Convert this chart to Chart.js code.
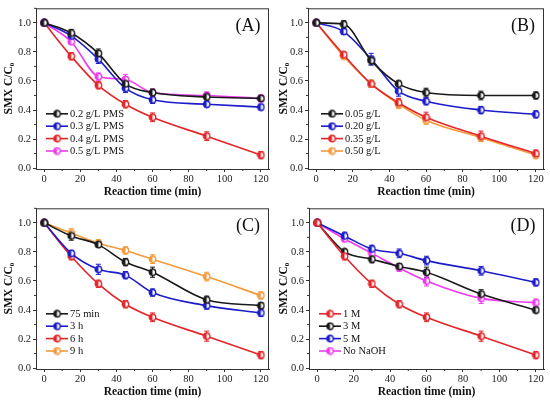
<!DOCTYPE html>
<html>
<head>
<meta charset="utf-8">
<script src="https://cdn.jsdelivr.net/npm/chart.js@4.4.0/dist/chart.umd.min.js"></script>
<style>
  body { margin: 0; background: #fff; width: 550px; height: 402px; position: relative; overflow: hidden; }
  .panel { position: absolute; width: 275px; height: 200px; }
</style>
</head>
<body>
<div class="panel" style="left:0;top:0"><canvas id="chartA"></canvas></div>
<div class="panel" style="left:275px;top:0"><canvas id="chartB"></canvas></div>
<div class="panel" style="left:0;top:200px"><canvas id="chartC"></canvas></div>
<div class="panel" style="left:275px;top:200px"><canvas id="chartD"></canvas></div>
<script>
// sampling times (min) and axis ticks
const times = [0, 15, 30, 45, 60, 90, 120];
const xTicks = [0, 20, 40, 60, 80, 100, 120];
const yTicks = [0, 0.2, 0.4, 0.6, 0.8, 1.0];

// (A) PMS dosage
const namesA = ['0.2 g/L PMS', '0.3 g/L PMS', '0.4 g/L PMS', '0.5 g/L PMS'];
const pms02 = [1.0, 0.93, 0.79, 0.58, 0.52, 0.49, 0.48];
const pms03 = [1.0, 0.91, 0.75, 0.55, 0.47, 0.44, 0.42];
const pms04 = [1.0, 0.77, 0.57, 0.44, 0.35, 0.22, 0.09];
const pms05 = [1.0, 0.87, 0.63, 0.61, 0.52, 0.50, 0.48];
const errPms02 = [0, 0.025, 0.03, 0.025, 0.025, 0.02, 0.02];
const errPms03 = [0, 0.025, 0.03, 0.03, 0.025, 0.02, 0.02];
const errPms04 = [0, 0.025, 0.025, 0.025, 0.03, 0.03, 0.025];
const errPms05 = [0, 0.02, 0.025, 0.035, 0.02, 0.025, 0.025];

// (B) catalyst dosage
const namesB = ['0.05 g/L', '0.20 g/L', '0.35 g/L', '0.50 g/L'];
const cat005 = [1.0, 0.99, 0.74, 0.58, 0.52, 0.50, 0.50];
const cat020 = [1.0, 0.94, 0.75, 0.53, 0.46, 0.40, 0.37];
const cat035 = [1.0, 0.78, 0.58, 0.45, 0.35, 0.22, 0.10];
const cat050 = [1.0, 0.77, 0.58, 0.44, 0.33, 0.21, 0.09];
const errCat005 = [0, 0.025, 0.03, 0.02, 0.03, 0.03, 0.025];
const errCat020 = [0, 0.02, 0.04, 0.035, 0.025, 0.025, 0.025];
const errCat035 = [0, 0.02, 0.025, 0.03, 0.035, 0.035, 0.025];
const errCat050 = [0, 0.02, 0.025, 0.03, 0.03, 0.025, 0.025];

// (C) aging time
const namesC = ['75 min', '3 h', '6 h', '9 h'];
const age75 = [1.0, 0.91, 0.85, 0.73, 0.66, 0.47, 0.43];
const age3 = [1.0, 0.79, 0.68, 0.64, 0.52, 0.43, 0.38];
const age6 = [1.0, 0.77, 0.58, 0.44, 0.35, 0.22, 0.09];
const age9 = [1.0, 0.93, 0.86, 0.81, 0.75, 0.63, 0.50];
const errAge75 = [0, 0.03, 0.02, 0.025, 0.035, 0.025, 0.02];
const errAge3 = [0, 0.02, 0.035, 0.025, 0.025, 0.025, 0.025];
const errAge6 = [0, 0.025, 0.025, 0.025, 0.03, 0.035, 0.025];
const errAge9 = [0, 0.03, 0.025, 0.025, 0.03, 0.03, 0.025];

// (D) NaOH concentration
const namesD = ['1 M', '3 M', '5 M', 'No NaOH'];
const naoh1 = [1.0, 0.77, 0.58, 0.44, 0.35, 0.22, 0.09];
const naoh3 = [1.0, 0.80, 0.75, 0.70, 0.66, 0.51, 0.40];
const naoh5 = [1.0, 0.91, 0.82, 0.79, 0.74, 0.67, 0.59];
const naohNo = [1.0, 0.89, 0.79, 0.69, 0.60, 0.48, 0.45];
const errNaoh1 = [0, 0.025, 0.025, 0.025, 0.03, 0.035, 0.025];
const errNaoh3 = [0, 0.02, 0.025, 0.02, 0.035, 0.03, 0.02];
const errNaoh5 = [0, 0.025, 0.025, 0.03, 0.03, 0.03, 0.025];
const errNaohNo = [0, 0.02, 0.03, 0.025, 0.035, 0.035, 0.025];

const BLACK = '#1a1a1a', BLUE = '#1c1cc8', RED = '#e3262b', MAGENTA = '#f03cf0', ORANGE = '#f39a3c';
const SERIF = '"Liberation Serif", "Times New Roman", serif';

// half filled circle marker
function makeMarker(color) {
  const c = document.createElement('canvas');
  c.width = 9; c.height = 9;
  const g = c.getContext('2d');
  g.beginPath(); g.arc(4.5, 4.5, 3.2, 0, Math.PI * 2);
  g.fillStyle = '#fff'; g.fill();
  g.beginPath(); g.arc(4.5, 4.5, 3.2, Math.PI / 2, Math.PI * 1.5);
  g.fillStyle = color; g.fill();
  g.beginPath(); g.arc(4.5, 4.5, 3.2, 0, Math.PI * 2);
  g.lineWidth = 1.4; g.strokeStyle = color; g.stroke();
  return c;
}

const extras = {
  id: 'extras',
  beforeDatasetsDraw(chart) {
    const ctx = chart.ctx, ys = chart.scales.y;
    chart.data.datasets.forEach((ds, i) => {
      const meta = chart.getDatasetMeta(i);
      ctx.save();
      ctx.strokeStyle = ds.borderColor; ctx.lineWidth = 1;
      meta.data.forEach((pt, j) => {
        const e = ds.errors[j];
        if (!e) return;
        const t = ys.getPixelForValue(ds.data[j] + e), b = ys.getPixelForValue(ds.data[j] - e);
        ctx.beginPath();
        ctx.moveTo(pt.x, t); ctx.lineTo(pt.x, b);
        ctx.moveTo(pt.x - 2.5, t); ctx.lineTo(pt.x + 2.5, t);
        ctx.moveTo(pt.x - 2.5, b); ctx.lineTo(pt.x + 2.5, b);
        ctx.stroke();
      });
      ctx.restore();
    });
  },
  afterDraw(chart) {
    const ctx = chart.ctx, a = chart.chartArea, o = chart.options.plugins.extras;
    const xs = chart.scales.x, ys = chart.scales.y;
    ctx.save();
    // frame
    ctx.strokeStyle = '#333'; ctx.lineWidth = 1;
    ctx.strokeRect(a.left + 0.5, a.top + 0.5, a.right - a.left - 1, a.bottom - a.top);
    // minor ticks
    ctx.beginPath();
    for (let v = 10; v < 120; v += 20) {
      const x = xs.getPixelForValue(v);
      ctx.moveTo(x, a.bottom); ctx.lineTo(x, a.bottom + 2);
    }
    for (let v = 0.1; v < 1.1; v += 0.2) {
      const y = ys.getPixelForValue(v);
      ctx.moveTo(a.left, y); ctx.lineTo(a.left - 2, y);
    }
    ctx.stroke();
    // legend inside plot
    const n = chart.data.datasets.length;
    ctx.font = '10.5px ' + SERIF; ctx.textBaseline = 'middle'; ctx.fillStyle = '#111';
    chart.data.datasets.forEach((ds, i) => {
      const y = a.bottom - 18 - (n - 1 - i) * 12.4;
      const x0 = a.left + o.legendX;
      ctx.strokeStyle = ds.borderColor; ctx.lineWidth = 1.6;
      ctx.beginPath(); ctx.moveTo(x0, y); ctx.lineTo(x0 + 22, y); ctx.stroke();
      ctx.drawImage(ds.pointStyle, x0 + 11 - 4.5, y - 4.5);
      ctx.fillText(ds.label, x0 + 24, y + 0.5);
    });
    // panel tag
    ctx.font = '18px ' + SERIF; ctx.textAlign = 'center'; ctx.fillStyle = '#111';
    ctx.fillText(o.tag, a.right - 21, a.top + 18);
    ctx.restore();
  }
};

function makeChart(id, tag, names, series, errs, colors, yWidth, legendX) {
  const datasets = series.map((s, i) => ({
    label: names[i],
    data: s,
    errors: errs[i],
    borderColor: colors[i],
    backgroundColor: colors[i],
    borderWidth: 1.6,
    pointStyle: makeMarker(colors[i]),
    cubicInterpolationMode: 'monotone'
  }));
  new Chart(document.getElementById(id), {
    type: 'line',
    data: { labels: times, datasets },
    options: {
      responsive: true,
      maintainAspectRatio: false,
      animation: false,
      layout: { padding: { top: 3, right: 6, left: 0, bottom: 0 } },
      plugins: { legend: { display: false }, tooltip: { enabled: false }, extras: { tag, legendX } },
      scales: {
        x: {
          type: 'linear', min: -4.5, max: 124.5,
          afterBuildTicks: s => { s.ticks = xTicks.map(v => ({ value: v })); },
          afterFit: s => { s.height = 31; },
          grid: { drawOnChartArea: false, drawTicks: true, tickLength: 3, color: '#333' },
          border: { color: '#333' },
          ticks: { font: { family: SERIF, size: 10.5 }, color: '#222', padding: 1, maxRotation: 0 },
          title: { display: true, text: 'Reaction time (min)', font: { family: SERIF, size: 11.5, weight: 'bold' }, color: '#111', padding: { top: 0, bottom: 1 } }
        },
        y: {
          type: 'linear', min: -0.006, max: 1.1,
          afterBuildTicks: s => { s.ticks = yTicks.map(v => ({ value: v })); },
          afterFit: s => { s.width = yWidth; },
          grid: { drawOnChartArea: false, drawTicks: true, tickLength: 3, color: '#333' },
          border: { color: '#333' },
          ticks: { font: { family: SERIF, size: 10.5 }, color: '#222', padding: 2, callback: v => v.toFixed(1) },
          title: { display: true, text: 'SMX C/C₀', font: { family: SERIF, size: 11.5, weight: 'bold' }, color: '#111', padding: { top: 2, bottom: 0 } }
        }
      }
    },
    plugins: [extras]
  });
}

makeChart('chartA', '(A)', namesA, [pms02, pms03, pms04, pms05], [errPms02, errPms03, errPms04, errPms05], [BLACK, BLUE, RED, MAGENTA], 36, 10);
makeChart('chartB', '(B)', namesB, [cat005, cat020, cat035, cat050], [errCat005, errCat020, errCat035, errCat050], [BLACK, BLUE, RED, ORANGE], 33, 13);
makeChart('chartC', '(C)', namesC, [age75, age3, age6, age9], [errAge75, errAge3, errAge6, errAge9], [BLACK, BLUE, RED, ORANGE], 36, 10);
makeChart('chartD', '(D)', namesD, [naoh1, naoh3, naoh5, naohNo], [errNaoh1, errNaoh3, errNaoh5, errNaohNo], [RED, BLACK, BLUE, MAGENTA], 34, 10);
</script>
</body>
</html>
